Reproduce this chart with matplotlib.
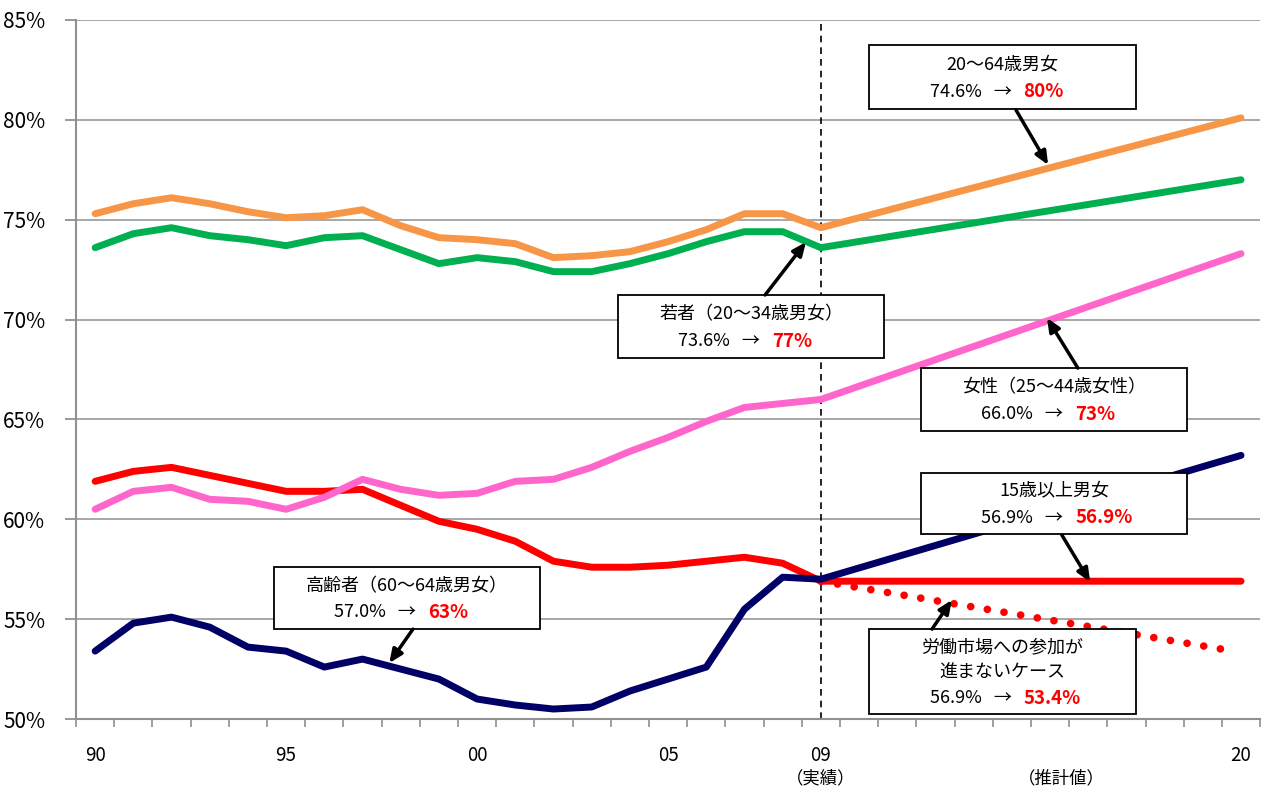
import numpy as np
import matplotlib
matplotlib.use("Agg")
import matplotlib.pyplot as plt
from matplotlib.patches import Rectangle

plt.rcParams['font.family'] = ['Noto Sans CJK JP', 'DejaVu Sans']

# 実績 1990-2009
years = list(range(1990, 2010))
age20_64 = [75.3, 75.8, 76.1, 75.8, 75.4, 75.1, 75.2, 75.5, 74.7, 74.1,
            74.0, 73.8, 73.1, 73.2, 73.4, 73.9, 74.5, 75.3, 75.3, 74.6]
young = [73.6, 74.3, 74.6, 74.2, 74.0, 73.7, 74.1, 74.2, 73.5, 72.8,
         73.1, 72.9, 72.4, 72.4, 72.8, 73.3, 73.9, 74.4, 74.4, 73.6]
women = [60.5, 61.4, 61.6, 61.0, 60.9, 60.5, 61.1, 62.0, 61.5, 61.2,
         61.3, 61.9, 62.0, 62.6, 63.4, 64.1, 64.9, 65.6, 65.8, 66.0]
all15 = [61.9, 62.4, 62.6, 62.2, 61.8, 61.4, 61.4, 61.5, 60.7, 59.9,
         59.5, 58.9, 57.9, 57.6, 57.6, 57.7, 57.9, 58.1, 57.8, 56.9]
elder = [53.4, 54.8, 55.1, 54.6, 53.6, 53.4, 52.6, 53.0, 52.5, 52.0,
         51.0, 50.7, 50.5, 50.6, 51.4, 52.0, 52.6, 55.5, 57.1, 57.0]

# 推計値 2009 -> 2020
proj_years = [2009, 2020]
proj_age20_64 = [74.6, 80.1]
proj_young = [73.6, 77.0]
proj_women = [66.0, 73.3]
proj_all15 = [56.9, 56.9]
proj_elder = [57.0, 63.2]
proj_low_years = [2009, 2019.8]
proj_low = [56.9, 53.4]

tick_years = [1990, 1995, 2000, 2005, 2009, 2020]
tick_labels = ['90', '95', '00', '05', '09', '20']

c_orange = '#F79646'
c_green = '#00B050'
c_pink = '#FF66CC'
c_red = '#FF0000'
c_navy = '#000066'

fig = plt.figure(figsize=(12.61, 7.87), dpi=100)
ax = fig.add_axes([0.0603, 0.0864, 0.939, 0.8882])

lw = 5
line_kw = dict(lw=lw, solid_capstyle='round', solid_joinstyle='round', zorder=4)
ax.plot(years + proj_years[1:], all15 + proj_all15[1:], color=c_red, **line_kw)
ax.plot(proj_low_years, proj_low, color=c_red, lw=5.5, linestyle=(0, (0.01, 2.2)),
        dash_capstyle='round', zorder=3)
ax.plot(years + proj_years[1:], elder + proj_elder[1:], color=c_navy, **line_kw)
ax.plot(years + proj_years[1:], women + proj_women[1:], color=c_pink, **line_kw)
ax.plot(years + proj_years[1:], young + proj_young[1:], color=c_green, **line_kw)
ax.plot(years + proj_years[1:], age20_64 + proj_age20_64[1:], color=c_orange, **line_kw)

ax.axvline(2009, color='black', lw=1.2, linestyle=(0, (4, 3)), zorder=2)

ax.set_xlim(1989.5, 2020.5)
ax.set_ylim(50, 85)
ax.set_yticks(np.arange(50, 86, 5))
ax.set_yticklabels([f'{v}%' for v in range(50, 86, 5)], fontsize=15)
ax.yaxis.grid(True, color='#A0A0A0', lw=1.3)
ax.set_axisbelow(True)

ax.set_xticks(tick_years)
ax.set_xticklabels(tick_labels, fontsize=13.5)
ax.set_xticks(np.arange(1989.5, 2021, 1), minor=True)
ax.tick_params(axis='x', which='major', length=0, pad=19)
ax.tick_params(axis='x', which='minor', length=6, color='#909090', width=1.2, direction='out')
ax.tick_params(axis='y', length=8, color='#909090', width=1.3, pad=14)

for s in ['top', 'right']:
    ax.spines[s].set_visible(False)
for s in ['left', 'bottom']:
    ax.spines[s].set_color('#909090')
    ax.spines[s].set_linewidth(1.5)

ax.text(2009, 47.05, '（実績）', ha='center', va='center', fontsize=12.5, clip_on=False)
ax.text(2015.3, 47.05, '（推計値）', ha='center', va='center', fontsize=12.5, clip_on=False)


def callout(x0, x1, y0, y1, title_lines, base, target, tail, head):
    ax.add_patch(Rectangle((x0, y0), x1 - x0, y1 - y0, facecolor='white',
                           edgecolor='black', lw=1.3, zorder=6))
    xc = (x0 + x1) / 2
    n = len(title_lines) + 1
    step = (y1 - y0) / (n + 0.35)
    for i, t in enumerate(title_lines):
        ax.text(xc, y1 - step * (i + 0.72), t, ha='center', va='center',
                fontsize=13, zorder=7)
    yl = y1 - step * (n - 1 + 0.72)
    ax.text(xc + 0.55, yl, f'{base}   →   ', ha='right', va='center',
            fontsize=13, zorder=7)
    ax.text(xc + 0.55, yl, target, ha='left', va='center', fontsize=13.5,
            color=c_red, fontweight='bold', zorder=7)
    ax.annotate('', xy=head, xytext=tail, zorder=7,
                arrowprops=dict(arrowstyle='-|>,head_length=0.8,head_width=0.35',
                                color='black', lw=2.5, shrinkA=0, shrinkB=0))


callout(2010.26, 2017.25, 80.54, 83.75, ['20〜64歳男女'], '74.6%', '80%',
        (2014.11, 80.49), (2014.95, 77.74))
callout(2003.69, 2010.65, 68.07, 71.23, ['若者（20〜34歳男女）'], '73.6%', '77%',
        (2007.54, 71.23), (2008.61, 73.88))
callout(2011.62, 2018.59, 64.42, 67.57, ['女性（25〜44歳女性）'], '66.0%', '73%',
        (2015.73, 67.57), (2014.92, 70.08))
callout(2011.62, 2018.59, 59.26, 62.32, ['15歳以上男女'], '56.9%', '56.9%',
        (2015.31, 59.21), (2016.05, 56.86))
callout(1994.69, 2001.65, 54.5, 57.61, ['高齢者（60〜64歳男女）'], '57.0%', '63%',
        (1998.32, 54.5), (1997.70, 52.80))
callout(2010.26, 2017.25, 50.25, 54.5, ['労働市場への参加が', '進まないケース'], '56.9%', '53.4%',
        (2011.91, 54.5), (2012.43, 55.96))

fig.savefig('out.png', dpi=100)
